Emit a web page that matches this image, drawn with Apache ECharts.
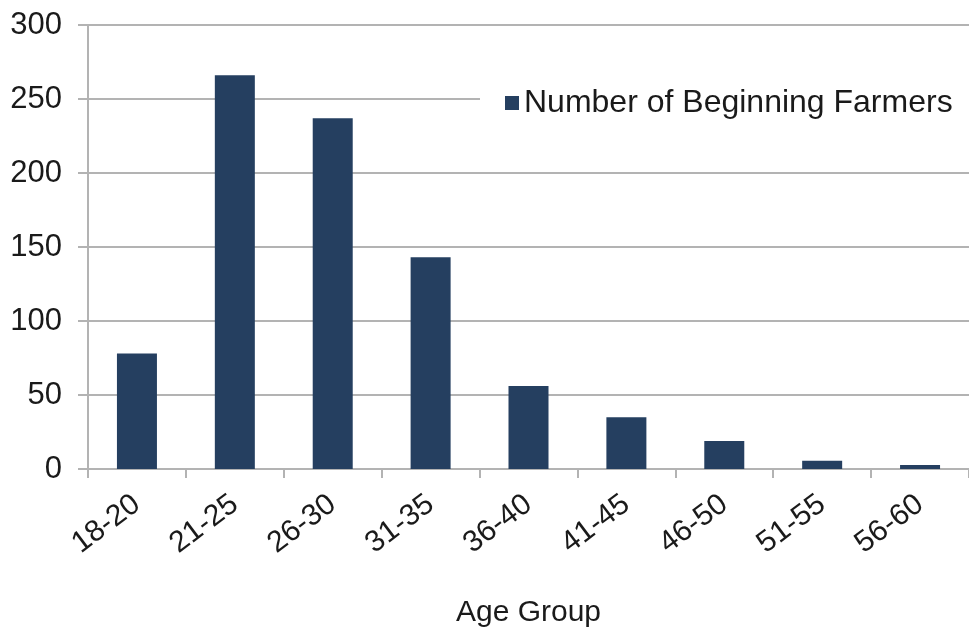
<!DOCTYPE html>
<html>
<head>
<meta charset="utf-8">
<script src="https://cdn.jsdelivr.net/npm/echarts@6/dist/echarts.min.js"></script>
<style>
html,body{margin:0;padding:0;background:#fff;}
#chart{width:969px;height:634px;}
</style>
</head>
<body>
<div id="chart"></div>
<script>
const categories = ['18-20','21-25','26-30','31-35','36-40','41-45','46-50','51-55','56-60'];
const beginningFarmers = [78, 266, 237, 143, 56, 35, 19, 5.5, 2.7];
const yTicks = { min: 0, max: 300, interval: 50 };
const seriesName = 'Number of Beginning Farmers';
const xAxisTitle = 'Age Group';

const FONT = '"Liberation Sans", Arial, sans-serif';
const TEXT = '#1a1a1a';
const GRID = '#b3b3b3';

const chart = echarts.init(document.getElementById('chart'), null, {renderer: 'canvas'});
chart.setOption({
  backgroundColor: '#ffffff',
  animation: false,
  textStyle: { fontFamily: FONT, color: TEXT },
  grid: { left: 88, right: 0, top: 25, bottom: 165, containLabel: false, outerBoundsMode: 'none' },
  legend: {
    data: [seriesName],
    left: 480, top: 83,
    padding: [4, 30, 4, 25],
    backgroundColor: '#ffffff',
    itemWidth: 14, itemHeight: 14,
    icon: 'rect',
    textStyle: { fontFamily: FONT, fontSize: 32, color: TEXT }
  },
  xAxis: {
    type: 'category',
    data: categories,
    name: xAxisTitle,
    nameLocation: 'middle',
    nameGap: 129,
    nameTextStyle: { fontFamily: FONT, fontSize: 30, color: TEXT },
    axisLine: { show: true, lineStyle: { color: GRID, width: 2 } },
    axisTick: { show: true, length: 9, alignWithLabel: false, lineStyle: { color: GRID, width: 2 } },
    axisLabel: { rotate: 37, fontFamily: FONT, fontSize: 30, color: TEXT, margin: 32, interval: 0 },
    splitLine: { show: false }
  },
  yAxis: {
    type: 'value',
    min: yTicks.min, max: yTicks.max, interval: yTicks.interval,
    axisLine: { show: true, lineStyle: { color: GRID, width: 2 } },
    axisTick: { show: true, length: 10, lineStyle: { color: GRID, width: 2 } },
    axisLabel: { fontFamily: FONT, fontSize: 31, color: TEXT, margin: 26 },
    splitLine: { show: true, lineStyle: { color: GRID, width: 2 } }
  },
  series: [{
    name: seriesName,
    type: 'bar',
    data: beginningFarmers,
    barWidth: 40,
    itemStyle: { color: '#253f60' }
  }]
});
</script>
</body>
</html>
